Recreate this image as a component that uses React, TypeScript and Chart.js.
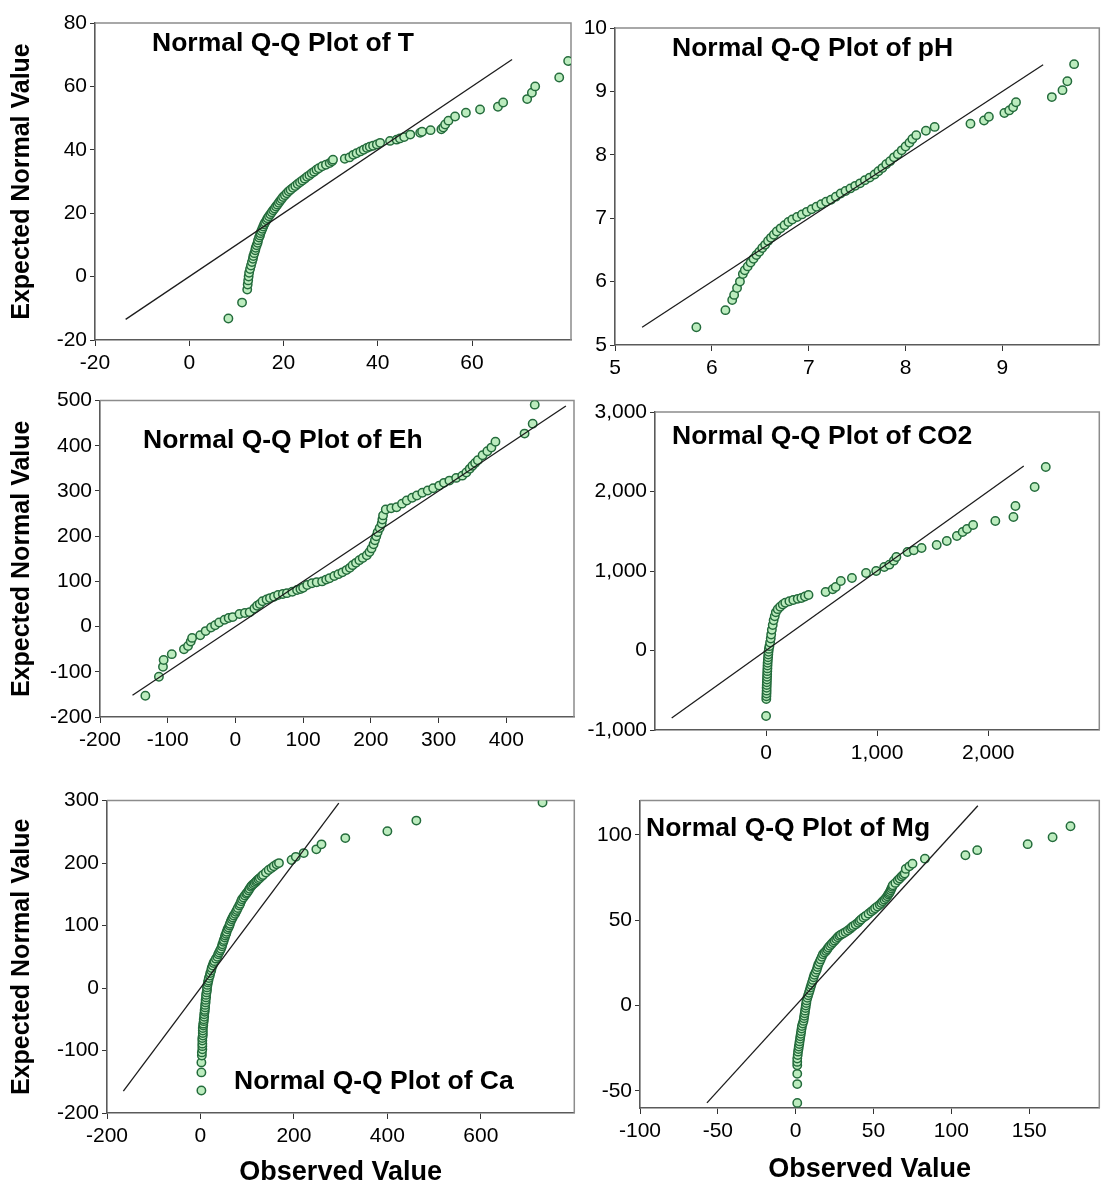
import React, { useEffect, useRef } from 'react';
import { Chart, registerables } from 'chart.js';

Chart.register(...registerables);

const FONT = "'Liberation Sans', Arial, Helvetica, sans-serif";

// ---------- T ----------
const tObserved = [8.3, 11.2, 12.3, 12.4, 12.5, 12.6, 12.7, 12.9, 13.1, 13.3, 13.5, 13.6, 13.8, 14.0, 14.1, 14.3, 14.5, 14.6, 14.8, 15.0, 15.1, 15.3, 15.5, 15.7, 15.9, 16.1, 16.4, 16.6, 16.9, 17.2, 17.5, 17.8, 18.1, 18.4, 18.7, 19.0, 19.3, 19.6, 19.9, 20.3, 20.7, 21.1, 21.5, 22.0, 22.5, 23.0, 23.5, 24.0, 24.5, 25.0, 25.5, 26.0, 26.5, 27.0, 27.5, 28.2, 29.0, 29.8, 30.3, 30.5, 33.0, 34.0, 34.8, 35.5, 36.3, 37.0, 37.7, 38.3, 39.0, 39.8, 40.5, 42.6, 44.0, 44.7, 45.6, 46.9, 49.0, 49.4, 51.2, 53.5, 53.9, 54.3, 55.0, 56.4, 58.7, 61.7, 65.5, 66.6, 71.7, 72.7, 73.4, 78.5, 80.4];
const tExpected = [-13.2, -8.2, -4.1, -2.5, -1.2, 0, 1.2, 2.4, 3.5, 4.6, 5.6, 6.5, 7.4, 8.3, 9.1, 9.9, 10.7, 11.5, 12.3, 13.0, 13.7, 14.4, 15.1, 15.8, 16.5, 17.1, 17.8, 18.4, 19.0, 19.7, 20.3, 20.9, 21.5, 22.1, 22.7, 23.3, 23.9, 24.5, 25.1, 25.7, 26.3, 26.9, 27.4, 28.0, 28.6, 29.2, 29.8, 30.3, 30.9, 31.5, 32.0, 32.6, 33.1, 33.7, 34.2, 34.8, 35.3, 35.8, 36.4, 36.9, 37.2, 37.6, 38.4, 38.9, 39.5, 40.0, 40.6, 41.0, 41.3, 41.7, 42.2, 42.8, 43.2, 43.6, 44.0, 44.8, 45.4, 45.7, 46.2, 46.5, 47.0, 48.0, 49.2, 50.5, 51.7, 52.7, 53.6, 54.9, 56.0, 58.0, 60.0, 62.8, 68.0];
const tRefLine = [-13.5, 68.5];
const tXTicks = [-20, 0, 20, 40, 60];
const tYTicks = [-20, 0, 20, 40, 60, 80];

// ---------- pH ----------
const phObserved = [5.84, 6.14, 6.21, 6.23, 6.26, 6.29, 6.32, 6.34, 6.37, 6.40, 6.43, 6.46, 6.49, 6.52, 6.55, 6.58, 6.61, 6.64, 6.67, 6.71, 6.75, 6.79, 6.83, 6.88, 6.93, 6.98, 7.03, 7.08, 7.13, 7.18, 7.23, 7.28, 7.33, 7.38, 7.43, 7.48, 7.53, 7.58, 7.63, 7.68, 7.72, 7.76, 7.80, 7.84, 7.88, 7.92, 7.96, 8.00, 8.04, 8.07, 8.11, 8.21, 8.30, 8.67, 8.81, 8.86, 9.02, 9.07, 9.11, 9.14, 9.51, 9.62, 9.67, 9.74];
const phExpected = [5.28, 5.55, 5.71, 5.79, 5.90, 6.00, 6.12, 6.18, 6.24, 6.30, 6.36, 6.42, 6.47, 6.53, 6.58, 6.64, 6.69, 6.74, 6.79, 6.84, 6.89, 6.94, 6.98, 7.02, 7.06, 7.10, 7.14, 7.18, 7.22, 7.26, 7.29, 7.34, 7.39, 7.43, 7.47, 7.51, 7.55, 7.60, 7.64, 7.69, 7.74, 7.79, 7.85, 7.90, 7.96, 8.01, 8.07, 8.13, 8.19, 8.25, 8.31, 8.38, 8.44, 8.49, 8.54, 8.60, 8.66, 8.70, 8.75, 8.83, 8.91, 9.02, 9.16, 9.43];
const phRefLine = [5.28, 9.42];
const phXTicks = [5, 6, 7, 8, 9];
const phYTicks = [5, 6, 7, 8, 9, 10];

// ---------- Eh ----------
const ehObserved = [-133, -113, -107, -106, -94, -76, -70, -66, -64, -52, -44, -36, -30, -24, -16, -10, -4, 6, 14, 21, 28, 32, 36, 40, 46, 51, 57, 63, 70, 76, 84, 91, 96, 100, 106, 113, 120, 128, 134, 139, 146, 152, 158, 164, 169, 173, 178, 183, 188, 194, 198, 201, 204, 206, 208, 210, 213, 216, 217, 218, 222, 230, 238, 246, 253, 261, 268, 276, 284, 292, 301, 308, 316, 326, 335, 341, 346, 350, 354, 358, 365, 372, 378, 384, 427, 439, 442];
const ehExpected = [-153, -111, -89, -74, -61, -50, -43, -33, -25, -19, -10, -2, 3, 9, 15, 19, 21, 28, 30, 32, 40, 46, 50, 56, 60, 63, 66, 70, 72, 74, 77, 81, 83, 86, 92, 96, 98, 100, 104, 107, 112, 116, 120, 125, 130, 136, 141, 147, 152, 158, 165, 173, 182, 191, 200, 209, 218, 228, 237, 246, 259, 262, 264, 272, 279, 285, 290, 296, 301, 306, 312, 318, 323, 329, 334, 341, 349, 356, 362, 368, 379, 388, 396, 409, 427, 449, 491];
const ehRefLine = [-152, 488];
const ehXTicks = [-200, -100, 0, 100, 200, 300, 400];
const ehYTicks = [-200, -100, 0, 100, 200, 300, 400, 500];

// ---------- CO2 ----------
const co2Observed = [0, 2, 3, 4, 5, 5, 6, 7, 8, 9, 10, 11, 12, 13, 14, 16, 18, 20, 22, 25, 30, 36, 42, 46, 52, 60, 68, 78, 88, 105, 127, 150, 173, 210, 245, 285, 318, 350, 382, 536, 600, 627, 673, 773, 900, 991, 1064, 1110, 1150, 1173, 1273, 1330, 1400, 1536, 1627, 1718, 1770, 1809, 1864, 2064, 2227, 2245, 2418, 2518];
const co2Expected = [-824, -610, -575, -540, -505, -470, -435, -400, -365, -330, -295, -260, -225, -190, -155, -120, -85, -50, -15, 20, 55, 100, 150, 200, 260, 320, 380, 430, 480, 520, 550, 578, 600, 620, 635, 650, 660, 680, 698, 736, 770, 800, 874, 912, 975, 1000, 1050, 1080, 1130, 1176, 1239, 1260, 1289, 1327, 1377, 1440, 1490, 1528, 1579, 1629, 1679, 1818, 2057, 2308];
const co2RefLine = [-850, 2320];
const co2XTicks = [0, 1000, 2000];
const co2YTicks = [-1000, 0, 1000, 2000, 3000];

// ---------- Ca ([observed, expected]) ----------
const caPairs: [number, number][] = [
  [2, -164], [2, -135], [2, -119], [3, -108], [3, -103], [4, -98], [4, -93], [4, -89], [4, -84], [4, -80],
  [5, -76], [5, -72], [5, -68], [5, -64], [6, -60], [6, -57], [7, -53], [7, -50], [8, -46], [8, -42],
  [9, -38], [9, -35], [10, -31], [10, -27], [11, -23], [11, -19], [12, -15], [12, -11], [13, -7], [14, -3],
  [14, 1], [15, 5], [16, 9], [17, 12], [18, 16], [20, 20], [21, 24], [23, 28], [24, 32], [26, 36],
  [28, 40], [30, 43], [33, 47], [36, 50], [38, 54], [40, 57], [42, 60], [44, 63], [46, 67], [47, 70],
  [49, 74], [50, 77], [52, 81], [53, 84], [55, 87], [56, 90], [58, 94], [60, 97], [62, 100], [63, 103],
  [65, 107], [67, 110], [69, 113], [71, 116], [74, 119], [76, 122], [78, 125], [80, 128], [83, 132], [85, 135],
  [87, 139], [89, 142], [92, 145], [95, 148], [98, 151], [100, 153], [103, 156], [105, 159], [108, 162], [110, 164],
  [113, 166], [116, 168], [119, 170], [121, 172], [124, 174], [127, 176], [131, 179], [134, 181], [140, 185], [146, 189],
  [152, 192], [157, 195], [163, 198], [168, 200], [195, 205], [204, 210], [221, 216], [248, 222], [259, 230], [310, 240],
  [400, 251], [462, 268], [732, 297],
];
const caObserved = caPairs.map((d) => d[0]);
const caExpected = caPairs.map((d) => d[1]);
const caRefLine = [-165, 296];
const caXTicks = [-200, 0, 200, 400, 600];
const caYTicks = [-200, -100, 0, 100, 200, 300];

// ---------- Mg ([observed, expected]) ----------
const mgPairs: [number, number][] = [
  [1, -57], [1, -46], [1, -40], [1, -35], [1, -33], [1, -31], [1.3, -29], [1.5, -27], [1.8, -25.5], [2, -24],
  [2.3, -22.5], [2.5, -21], [2.8, -19.5], [3, -18], [3.3, -16.5], [3.5, -15], [3.8, -13.5], [4, -12], [4.5, -10.5], [5, -9],
  [5.3, -7.5], [5.5, -6], [5.8, -4.5], [6, -3], [6.3, -1.5], [6.5, 0], [6.8, 1.5], [7, 3], [7.5, 4.5], [8, 6],
  [8.5, 7.5], [9, 9], [9.5, 10.5], [10, 12], [10.5, 13.5], [11, 15], [11.5, 16.5], [12, 18], [12.8, 19.5], [13.5, 21],
  [14, 22.5], [14.5, 24], [15.3, 25.5], [16, 27], [16.8, 28.5], [17.5, 30], [18.5, 31], [19.5, 32], [20.3, 33], [21, 34],
  [22, 35], [23, 36], [24, 37], [25, 38], [26, 39], [27, 40], [28, 40.8], [29, 41.5], [30.5, 42.2], [32, 43],
  [33.5, 44], [35, 45], [36, 45.8], [37, 46.5], [38.5, 47.5], [40, 48.5], [41, 49.5], [42, 50.4], [43.5, 51.5], [45, 52.5],
  [46.8, 53.8], [48.5, 55], [49.8, 56], [51, 57], [52.5, 58], [54, 59], [55, 60], [56, 61], [57, 62], [58, 63],
  [58.8, 64], [59.5, 65], [60, 65.8], [60.5, 66.5], [61, 67.5], [61.5, 68.5], [62, 69.5], [62.4, 70.4], [64, 71.8], [65.6, 73.3],
  [66.8, 74.4], [68, 75.5], [69, 76.4], [70, 77.3], [70.7, 80], [73, 81.5], [75, 83], [83, 86], [109, 88], [116.6, 91],
  [149, 94.5], [165, 98.5], [176.5, 105],
];
const mgObserved = mgPairs.map((d) => d[0]);
const mgExpected = mgPairs.map((d) => d[1]);
const mgRefLine = [-57, 117];
const mgXTicks = [-100, -50, 0, 50, 100, 150];
const mgYTicks = [-50, 0, 50, 100];

type Box = { left: number; top: number; width: number; height: number };
type Area = { left: number; top: number; right: number; bottom: number };
type Panel = {
  title: string;
  obs: number[];
  exp: number[];
  ref: number[];
  xTicks: number[];
  yTicks: number[];
  xMin: number; xMax: number; yMin: number; yMax: number;
  box: Box;
  area: Area;
  yTitle: boolean;
  xTitle: boolean;
  xTitleOffset?: number;
  titleAt: { x: number; y: number };
  comma?: boolean;
};

const panels: Panel[] = [
  {
    title: 'Normal Q-Q Plot of T', obs: tObserved, exp: tExpected, ref: tRefLine,
    xTicks: tXTicks, yTicks: tYTicks, xMin: -20, xMax: 81, yMin: -20, yMax: 80,
    box: { left: 0, top: 0, width: 580, height: 385 },
    area: { left: 95, top: 23, right: 571, bottom: 340 },
    yTitle: true, xTitle: false, titleAt: { x: 152, y: 44 },
  },
  {
    title: 'Normal Q-Q Plot of pH', obs: phObserved, exp: phExpected, ref: phRefLine,
    xTicks: phXTicks, yTicks: phYTicks, xMin: 5, xMax: 10, yMin: 5, yMax: 10,
    box: { left: 580, top: 0, width: 525, height: 385 },
    area: { left: 615, top: 28, right: 1103, bottom: 345 },
    yTitle: false, xTitle: false, titleAt: { x: 672, y: 49 },
  },
  {
    title: 'Normal Q-Q Plot of Eh', obs: ehObserved, exp: ehExpected, ref: ehRefLine,
    xTicks: ehXTicks, yTicks: ehYTicks, xMin: -200, xMax: 500, yMin: -200, yMax: 500,
    box: { left: 0, top: 385, width: 580, height: 400 },
    area: { left: 100, top: 400, right: 574, bottom: 717 },
    yTitle: true, xTitle: false, titleAt: { x: 143, y: 441 },
  },
  {
    title: 'Normal Q-Q Plot of CO2', obs: co2Observed, exp: co2Expected, ref: co2RefLine,
    xTicks: co2XTicks, yTicks: co2YTicks, xMin: -1000, xMax: 3000, yMin: -1000, yMax: 3000,
    box: { left: 580, top: 385, width: 525, height: 400 },
    area: { left: 655, top: 412, right: 1103, bottom: 730 },
    yTitle: false, xTitle: false, titleAt: { x: 672, y: 437 }, comma: true,
  },
  {
    title: 'Normal Q-Q Plot of Ca', obs: caObserved, exp: caExpected, ref: caRefLine,
    xTicks: caXTicks, yTicks: caYTicks, xMin: -200, xMax: 800, yMin: -200, yMax: 300,
    box: { left: 0, top: 785, width: 580, height: 400 },
    area: { left: 107, top: 797, right: 576, bottom: 1113 },
    yTitle: true, xTitle: true, xTitleOffset: 0, titleAt: { x: 234, y: 1082 },
  },
  {
    title: 'Normal Q-Q Plot of Mg', obs: mgObserved, exp: mgExpected, ref: mgRefLine,
    xTicks: mgXTicks, yTicks: mgYTicks, xMin: -100, xMax: 195, yMin: -60, yMax: 120,
    box: { left: 580, top: 785, width: 525, height: 400 },
    area: { left: 640, top: 793, right: 1103, bottom: 1108 },
    yTitle: false, xTitle: true, xTitleOffset: 3, titleAt: { x: 646, y: 829 },
  },
];

const framePlugin = {
  id: 'frameBox',
  beforeDatasetsDraw(chart: any) {
    const { ctx, chartArea: a } = chart;
    ctx.save();
    ctx.strokeStyle = '#8c8c8c';
    ctx.lineWidth = 1.5;
    ctx.beginPath();
    ctx.moveTo(a.left, a.top);
    ctx.lineTo(a.right, a.top);
    ctx.lineTo(a.right, a.bottom);
    ctx.stroke();
    ctx.restore();
  },
};

const panelTitlePlugin = {
  id: 'panelTitle',
  afterDatasetsDraw(chart: any, _args: any, opts: any) {
    if (!opts || !opts.text) return;
    const { ctx } = chart;
    ctx.save();
    ctx.font = `bold 25px ${FONT}`;
    ctx.fillStyle = '#000';
    ctx.textBaseline = 'middle';
    ctx.textAlign = 'left';
    ctx.translate(opts.x, opts.y);
    ctx.scale(1.06, 1);
    ctx.fillText(opts.text, 0, 0);
    ctx.restore();
  },
};

function QQPanel({ p }: { p: Panel }) {
  const ref = useRef<HTMLCanvasElement | null>(null);
  useEffect(() => {
    if (!ref.current) return;
    const padTop = p.area.top - p.box.top;
    const padRight = p.box.left + p.box.width - p.area.right;
    const yW = p.area.left - p.box.left;
    const xH = p.box.top + p.box.height - p.area.bottom;
    const fmt = (v: number) => (p.comma ? Number(v).toLocaleString('en-US') : String(v));
    const chart = new Chart(ref.current, {
      type: 'scatter',
      data: {
        datasets: [
          {
            type: 'line',
            data: p.ref.map((v) => ({ x: v, y: v })),
            borderColor: '#1c1c1c',
            borderWidth: 1.3,
            pointRadius: 0,
            fill: false,
            tension: 0,
            order: 0,
          } as any,
          {
            type: 'scatter',
            data: p.obs.map((x, i) => ({ x, y: p.exp[i] })),
            pointRadius: 4.2,
            pointBackgroundColor: 'rgb(188,236,190)',
            pointBorderColor: 'rgb(36,108,60)',
            pointBorderWidth: 1.5,
            order: 1,
          } as any,
        ],
      },
      options: {
        animation: false,
        responsive: false,
        devicePixelRatio: 1,
        layout: { padding: { top: padTop, right: padRight, left: 0, bottom: 0 } },
        plugins: {
          legend: { display: false },
          tooltip: { enabled: false },
          panelTitle: { text: p.title, x: p.titleAt.x - p.box.left, y: p.titleAt.y - p.box.top },
        } as any,
        scales: {
          x: {
            type: 'linear',
            min: p.xMin,
            max: p.xMax,
            afterFit: (s: any) => { s.height = xH; },
            afterBuildTicks: (s: any) => { s.ticks = p.xTicks.map((v) => ({ value: v })); },
            grid: { display: true, drawOnChartArea: false, drawTicks: true, tickLength: 6, color: '#333', lineWidth: 1 },
            border: { display: true, color: '#5a5a5a', width: 1.6 },
            ticks: {
              font: { family: FONT, size: 21 },
              color: '#000',
              padding: 5,
              maxRotation: 0,
              autoSkip: false,
              callback: (v: any) => fmt(Number(v)),
            },
            title: {
              display: p.xTitle,
              text: 'Observed Value',
              color: '#000',
              font: { family: FONT, size: 27, weight: 'bold', lineHeight: 0.9 },
              padding: { top: 0, bottom: p.xTitleOffset ?? 0 },
            },
          },
          y: {
            type: 'linear',
            min: p.yMin,
            max: p.yMax,
            afterFit: (s: any) => { s.width = yW; },
            afterBuildTicks: (s: any) => { s.ticks = p.yTicks.map((v) => ({ value: v })); },
            grid: { display: true, drawOnChartArea: false, drawTicks: true, tickLength: 5, color: '#333', lineWidth: 1 },
            border: { display: true, color: '#5a5a5a', width: 1.6 },
            ticks: {
              font: { family: FONT, size: 21 },
              color: '#000',
              padding: 3,
              autoSkip: false,
              callback: (v: any) => fmt(Number(v)),
            },
            title: {
              display: p.yTitle,
              text: 'Expected Normal Value',
              color: '#000',
              font: { family: FONT, size: 25, weight: 'bold', lineHeight: 1 },
              padding: { top: 10, bottom: 0 },
            },
          },
        },
      } as any,
      plugins: [framePlugin, panelTitlePlugin],
    });
    return () => chart.destroy();
  }, [p]);
  return (
    <canvas
      ref={ref}
      width={p.box.width}
      height={p.box.height}
      style={{ position: 'absolute', left: p.box.left, top: p.box.top, width: p.box.width, height: p.box.height }}
    />
  );
}

export default function App() {
  return (
    <div style={{ position: 'absolute', left: 0, top: 0, width: 1105, height: 1185, background: '#fff', overflow: 'hidden' }}>
      {panels.map((p) => (
        <QQPanel key={p.title} p={p} />
      ))}
    </div>
  );
}
